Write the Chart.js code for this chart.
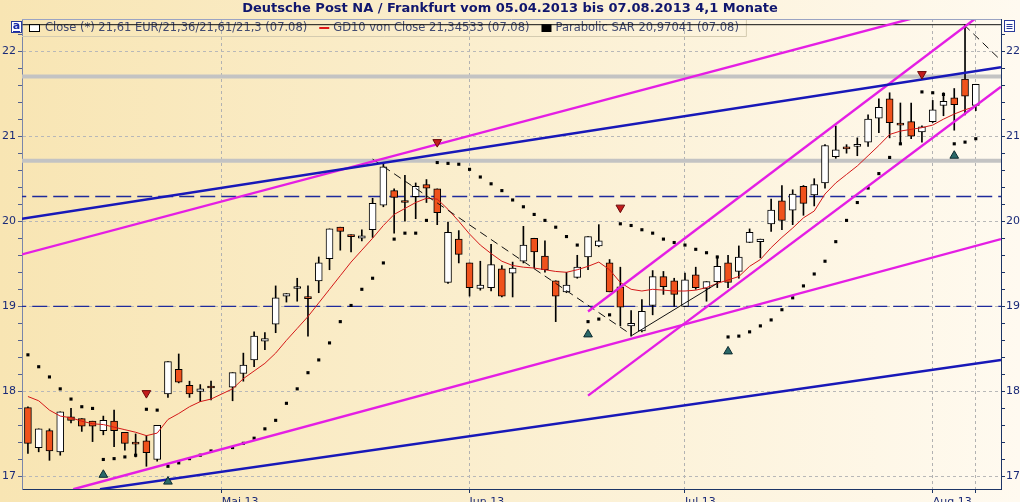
<!DOCTYPE html>
<html>
<head>
<meta charset="utf-8">
<script src="https://cdn.jsdelivr.net/npm/chart.js@4.4.1/dist/chart.umd.min.js"></script>
<style>
  html, body { margin: 0; padding: 0; background: #fbf1d6; }
  #wrap { width: 1020px; height: 502px; }
</style>
</head>
<body>
<div id="wrap"><canvas id="dpChart" width="1020" height="502"></canvas></div>
<script>
// trading days 05.04.2013 - 07.08.2013 (index 18 = 01.05., no trading)
const openP = [17.81,17.34,17.54,17.29,17.70,17.68,17.65,17.54,17.65,17.52,
  17.39,17.42,17.20,17.97,18.26,18.07,18.00,18.05,null,18.05,
  18.21,18.37,18.59,18.79,19.12,19.21,19.11,19.30,19.56,19.93,
  19.83,19.80,19.90,20.19,20.36,20.23,20.29,20.43,20.38,19.28,
  19.79,19.51,19.21,19.22,19.44,19.39,19.53,19.80,19.59,19.30,
  19.17,19.34,19.58,19.71,19.51,19.23,18.77,18.71,19.01,19.35,
  19.30,19.00,19.37,19.21,19.29,19.51,19.41,19.75,19.76,19.97,
  20.24,20.13,20.41,20.31,20.45,20.76,20.86,20.88,20.93,21.21,
  21.44,21.14,21.17,21.05,21.17,21.36,21.45,21.67,21.36];
const highP = [17.82,17.56,17.56,17.76,17.80,17.68,17.65,17.71,17.78,17.52,
  17.50,17.48,17.60,18.35,18.44,18.12,18.08,18.12,null,18.22,
  18.45,18.70,18.69,19.24,19.15,19.33,19.24,19.58,19.91,19.93,
  19.84,19.90,20.27,20.69,20.38,20.54,20.45,20.49,20.38,19.99,
  19.89,19.51,19.53,19.73,19.48,19.52,19.94,19.80,19.77,19.30,
  19.40,19.60,19.82,19.96,19.55,19.46,18.95,19.08,19.42,19.41,
  19.33,19.39,19.46,19.29,19.59,19.60,19.71,19.91,19.79,20.26,
  20.42,20.37,20.42,20.50,20.90,21.12,20.90,20.98,21.25,21.44,
  21.51,21.39,21.39,21.12,21.42,21.51,21.56,22.31,21.61];
const lowP = [17.27,17.29,17.19,17.25,17.63,17.53,17.41,17.49,17.35,17.31,
  17.23,17.12,17.18,17.93,18.10,17.93,17.88,17.90,null,17.89,
  18.12,18.29,18.49,18.69,19.05,19.06,18.65,19.16,19.43,19.66,
  19.64,19.77,19.81,20.17,19.86,20.00,20.03,20.22,19.96,19.27,
  19.51,19.12,19.19,19.18,19.11,19.11,19.51,19.45,19.40,18.82,
  19.16,19.33,19.43,19.70,19.17,18.77,18.65,18.70,18.90,19.14,
  19.00,19.00,19.20,19.06,19.22,19.22,19.33,19.75,19.57,19.88,
  19.90,19.96,20.07,20.18,20.39,20.74,20.80,20.77,20.88,21.04,
  20.98,20.91,20.97,20.93,21.16,21.24,21.07,21.25,21.30];
const closeP = [17.39,17.56,17.30,17.76,17.66,17.59,17.59,17.66,17.54,17.39,
  17.38,17.28,17.60,18.35,18.11,17.97,18.03,18.04,null,18.22,
  18.31,18.65,18.62,19.10,19.15,19.23,19.09,19.51,19.91,19.88,
  19.82,19.83,20.21,20.64,20.28,20.22,20.41,20.39,20.10,19.87,
  19.61,19.22,19.25,19.49,19.12,19.45,19.72,19.64,19.43,19.12,
  19.25,19.46,19.82,19.77,19.17,18.99,18.80,18.94,19.35,19.23,
  19.14,19.31,19.22,19.29,19.47,19.28,19.58,19.87,19.79,20.13,
  20.01,20.32,20.21,20.43,20.89,20.84,20.85,20.90,21.20,21.34,
  21.16,21.13,21.00,21.11,21.31,21.41,21.37,21.47,21.61];
const gd10 = [17.94,17.89,17.78,17.71,17.69,17.65,17.62,17.61,17.58,17.55,
  17.52,17.48,17.51,17.67,17.74,17.82,17.88,17.91,null,18.03,
  18.15,18.24,18.33,18.45,18.60,18.74,18.88,19.04,19.20,19.36,
  19.52,19.66,19.80,19.95,20.08,20.15,20.22,20.27,20.26,20.14,
  20.00,19.85,19.72,19.62,19.53,19.48,19.46,19.45,19.43,19.41,
  19.40,19.43,19.47,19.52,19.43,19.28,19.20,19.18,19.20,19.19,
  19.18,19.18,19.19,19.22,19.27,19.31,19.35,19.47,19.55,19.69,
  19.81,19.92,20.04,20.12,20.32,20.45,20.55,20.65,20.77,20.89,
  21.02,21.06,21.08,21.10,21.13,21.20,21.26,21.31,21.35];
const sar = [18.43,18.29,18.17,18.03,17.91,17.82,17.80,17.20,17.21,17.23,
  17.25,17.79,17.78,17.12,17.16,17.21,17.25,17.30,null,17.34,
  17.39,17.45,17.56,17.66,17.86,18.03,18.22,18.37,18.57,18.82,
  19.01,19.20,19.33,19.51,19.79,19.86,19.86,20.01,20.69,20.68,
  20.67,20.61,20.52,20.44,20.36,20.25,20.17,20.08,20.01,19.93,
  19.82,19.72,18.82,18.85,18.90,19.97,19.95,19.90,19.86,19.79,
  19.75,19.72,19.67,19.63,19.58,18.64,18.65,18.70,18.77,18.84,
  18.96,19.10,19.24,19.38,19.53,19.76,20.01,20.22,20.39,20.56,
  20.75,20.91,null,21.52,21.51,21.49,20.91,20.93,20.97];

// SAR signals
const sellIdx = [11, 38, 55, 83];
const sellVal = [17.98, 20.93, 20.16, 21.73];
const buyIdx = [7, 13, 52, 65, 86];
const buyVal = [17.02, 16.94, 18.67, 18.47, 20.77];

// drawn lines: [index, value] pairs
const blueTrendUp = [[-0.56, 20.03], [90.34, 21.81]];
const blueTrendLow = [[6.69, 16.85], [90.34, 18.37]];
const pinkChanUp = [[-0.56, 19.61], [90.34, 22.66]];
const pinkChanLow = [[4.21, 16.85], [90.34, 19.79]];
const pinkSteepUp = [[52.0, 18.94], [90.34, 22.61]];
const pinkSteepLow = [[52.0, 17.95], [90.34, 21.58]];
const zigDown = [[32.0, 20.73], [56.1, 18.66]];
const zigUp = [[56.1, 18.66], [64.0, 19.27]];
const zigLast = [[86.9, 22.31], [90.34, 21.89]];
const highLine = [[-0.5, 22.31], [90.34, 22.31]];
const grayLevels = [21.70, 20.71];
const dashLevels = [20.29, 19.00];

// axes
const xMin = -0.55, xMax = 90.34;
const yMin = 16.853, yMax = 22.377;
const monthIdx = [18, 41, 61, 84, 88];
const monthLabels = ['Mai 13', 'Jun 13', 'Jul 13', 'Aug 13', ''];
const yLabels = [17, 18, 19, 20, 21, 22];

const FONT = '"DejaVu Sans", Verdana, sans-serif';
const NAVY = '#1a2a78';

const pts = arr => arr.map(p => ({x: p[0], y: p[1]}));
const series = arr => arr.map((v, i) => ({x: i, y: v}));

function trend(points, color, width, dash) {
  return {
    type: 'line', data: pts(points), borderColor: color, borderWidth: width,
    borderDash: dash || [], pointRadius: 0, clip: 0, order: 2
  };
}

const datasets = [];

grayLevels.forEach(v => datasets.push({
  type: 'line', data: [{x: xMin - 1, y: v}, {x: xMax + 1, y: v}],
  borderColor: '#c3c3c3', borderWidth: 4, pointRadius: 0, clip: 0, order: 9
}));
dashLevels.forEach(v => datasets.push({
  type: 'line', data: [{x: xMin - 1, y: v}, {x: xMax + 1, y: v}],
  borderColor: '#1e2a9c', borderWidth: 1.4, borderDash: [15, 6], pointRadius: 0, clip: 0, order: 8
}));

// wicks
datasets.push({
  type: 'bar',
  data: lowP.map((l, i) => l == null ? null : {x: i, y: [l, highP[i]]}).filter(d => d),
  backgroundColor: '#000', borderWidth: 0, barThickness: 1, grouped: false, order: 6
});
// bodies
datasets.push({
  type: 'bar',
  data: openP.map((o, i) => o == null ? null : {x: i, y: [o, closeP[i]]}).filter(d => d),
  backgroundColor: openP.filter(o => o != null).map((o, k) => {
    const c = closeP.filter(v => v != null)[k];
    return c >= o ? '#ffffff' : '#f0521c';
  }),
  borderColor: '#000', borderWidth: 1, borderSkipped: false,
  barThickness: 7, minBarLength: 2, grouped: false, order: 5
});

datasets.push({
  type: 'line', data: series(gd10), borderColor: '#d41818', borderWidth: 1,
  pointRadius: 0, spanGaps: true, order: 4
});
datasets.push({
  type: 'line', data: series(sar).filter(d => d.y != null), showLine: false,
  pointStyle: 'rect', pointRadius: 2.2, backgroundColor: '#000', borderWidth: 0, order: 4
});

datasets.push(trend(blueTrendUp, '#1818b8', 2.4));
datasets.push(trend(blueTrendLow, '#1818b8', 2.4));
datasets.push(trend(pinkChanUp, '#e41ee4', 2.4));
datasets.push(trend(pinkChanLow, '#e41ee4', 2.4));
datasets.push(trend(pinkSteepUp, '#e41ee4', 2.4));
datasets.push(trend(pinkSteepLow, '#e41ee4', 2.4));
datasets.push(trend(zigDown, '#111', 1, [8, 5]));
datasets.push(trend(zigUp, '#111', 1));
datasets.push(trend(zigLast, '#111', 1, [8, 5]));
datasets.push(trend(highLine, '#111', 1));

datasets.push({
  type: 'line', data: sellIdx.map((x, k) => ({x, y: sellVal[k]})), showLine: false,
  pointStyle: 'triangle', rotation: 180, pointRadius: 5,
  backgroundColor: '#c41c1c', borderColor: '#6a0a0a', borderWidth: 1, order: 1
});
datasets.push({
  type: 'line', data: buyIdx.map((x, k) => ({x, y: buyVal[k]})), showLine: false,
  pointStyle: 'triangle', pointRadius: 5,
  backgroundColor: '#2a6868', borderColor: '#0c2a30', borderWidth: 1, order: 1
});

const isLabel = v => yLabels.some(l => Math.abs(l - v) < 1e-6);
const yTicks = scale => {
  const t = [];
  for (let v = 17; v <= 22.2 + 1e-9; v += 0.2) t.push({value: Math.round(v * 10) / 10});
  scale.ticks = t;
};

const legendItems = [
  {icon: 'candle', text: 'Close (*) 21,61 EUR/21,36/21,61/21,3 (07.08)'},
  {icon: 'line', text: 'GD10 von Close 21,34533 (07.08)'},
  {icon: 'square', text: 'Parabolic SAR 20,97041 (07.08)'}
];

const decor = {
  id: 'decor',
  beforeDraw(chart) {
    const c = chart.ctx;
    const g = c.createLinearGradient(0, 0, chart.width, 0);
    g.addColorStop(0, '#f8e5b3');
    g.addColorStop(0.5, '#fbefd0');
    g.addColorStop(1, '#fffaf0');
    c.save();
    c.fillStyle = g;
    c.fillRect(0, 0, chart.width, chart.height);
    c.restore();
  },
  beforeDatasetsDraw(chart) {
    const c = chart.ctx, a = chart.chartArea;
    const y = a.top + 9;
    c.save();
    c.font = '11.5px ' + FONT;
    c.textBaseline = 'middle';
    let x = a.left + 7;
    legendItems.forEach(item => {
      if (item.icon === 'candle') {
        c.fillStyle = '#fff'; c.strokeStyle = '#000'; c.lineWidth = 1;
        c.fillRect(x + 0.5, y - 3.5, 10, 7); c.strokeRect(x + 0.5, y - 3.5, 10, 7);
        x += 16;
      } else if (item.icon === 'line') {
        c.strokeStyle = '#e01818'; c.lineWidth = 2;
        c.beginPath(); c.moveTo(x, y); c.lineTo(x + 10, y); c.stroke();
        x += 14;
      } else {
        c.fillStyle = '#000';
        c.fillRect(x, y - 4, 10, 8);
        x += 14;
      }
      c.fillStyle = '#414a72';
      c.fillText(item.text, x, y);
      x += c.measureText(item.text).width + 12;
    });
    c.strokeStyle = '#d4cbb0'; c.lineWidth = 1;
    c.beginPath();
    c.moveTo(a.left, a.top + 17.5); c.lineTo(x - 4.5, a.top + 17.5); c.lineTo(x - 4.5, a.top);
    c.stroke();
    c.restore();
  },
  afterDraw(chart) {
    const c = chart.ctx, a = chart.chartArea;
    c.save();
    c.strokeStyle = '#9aa3c2'; c.lineWidth = 1;
    c.beginPath(); c.moveTo(a.left, a.top + 0.5); c.lineTo(a.right, a.top + 0.5); c.stroke();
    // small "a" button
    c.fillStyle = '#fff'; c.strokeStyle = '#2a3a9a';
    c.fillRect(11.5, 21.5, 10, 11); c.strokeRect(11.5, 21.5, 10, 11);
    c.fillStyle = '#1a2aa8'; c.font = 'bold 11px ' + FONT;
    c.textAlign = 'center'; c.textBaseline = 'middle';
    c.fillText('a', 16.5, 26.5);
    c.fillRect(13, 31, 7, 1);
    // menu button
    c.fillStyle = '#fff'; c.strokeStyle = '#2a3a9a';
    c.fillRect(1004.5, 20.5, 10, 11); c.strokeRect(1004.5, 20.5, 10, 11);
    c.fillStyle = '#2a3a9a';
    [24, 26, 28].forEach(yy => c.fillRect(1006.5, yy, 6, 1));
    c.restore();
  }
};

new Chart(document.getElementById('dpChart'), {
  type: 'line',
  data: {datasets},
  options: {
    responsive: false,
    animation: false,
    events: [],
    layout: {padding: 0},
    plugins: {
      legend: {display: false},
      tooltip: {enabled: false},
      title: {
        display: true,
        text: 'Deutsche Post NA / Frankfurt vom 05.04.2013 bis 07.08.2013 4,1 Monate',
        color: '#10166e',
        font: {family: FONT, size: 13, weight: 'bold', lineHeight: 1.2},
        padding: {top: 1, bottom: 2.4}
      }
    },
    scales: {
      x: {
        type: 'linear', position: 'bottom', min: xMin, max: xMax, offset: false,
        afterFit: s => { s.height = 13; },
        afterBuildTicks: s => { s.ticks = monthIdx.map(v => ({value: v})); },
        ticks: {
          callback: (v, i) => monthLabels[i], align: 'start', autoSkip: false,
          maxRotation: 0, padding: 3, color: NAVY, font: {family: FONT, size: 11}
        },
        grid: {color: '#b2b2b2', tickColor: '#1d3566', tickLength: 4, offset: false},
        border: {color: '#1d3566', dash: [3, 3]}
      },
      y: {
        type: 'linear', position: 'left', min: yMin, max: yMax,
        afterFit: s => { s.width = 22; },
        afterBuildTicks: yTicks,
        ticks: {
          callback: v => isLabel(v) ? String(Math.round(v)) : '', autoSkip: false,
          padding: 2, color: NAVY, font: {family: FONT, size: 11}
        },
        grid: {
          color: ctx => isLabel(ctx.tick.value) ? '#b8b8b8' : 'rgba(0,0,0,0)',
          tickColor: '#52608e', tickLength: 4
        },
        border: {color: '#7a86aa', dash: [3, 3]}
      },
      y2: {
        type: 'linear', position: 'right', min: yMin, max: yMax,
        afterFit: s => { s.width = 19; },
        afterBuildTicks: yTicks,
        ticks: {
          callback: v => isLabel(v) ? String(Math.round(v)) : '', autoSkip: false,
          padding: 1, color: NAVY, font: {family: FONT, size: 11}
        },
        grid: {drawOnChartArea: false, tickColor: '#1d3566', tickLength: 4},
        border: {color: '#1d3566'}
      }
    }
  },
  plugins: [decor]
});
</script>
</body>
</html>
